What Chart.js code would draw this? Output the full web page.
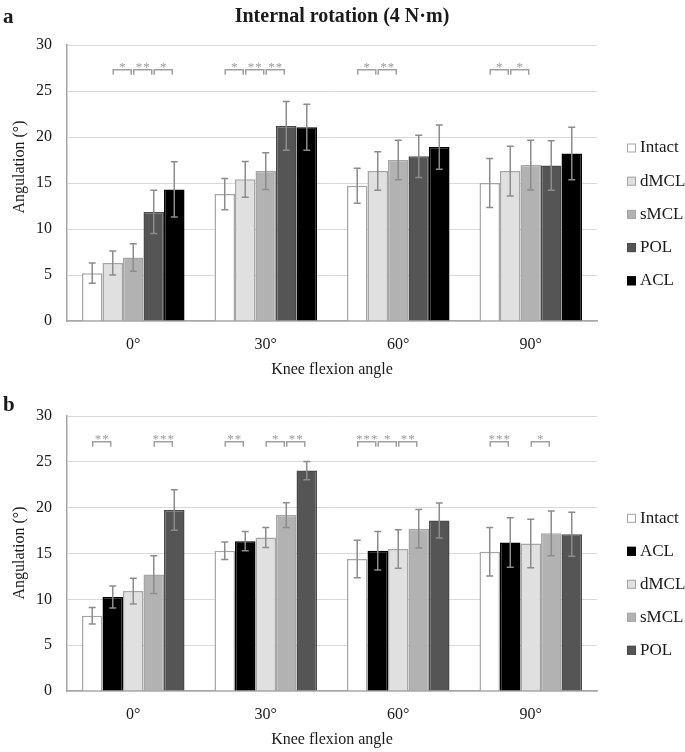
<!DOCTYPE html>
<html>
<head>
<meta charset="utf-8">
<script src="https://cdn.jsdelivr.net/npm/chart.js@4.4.1/dist/chart.umd.min.js"></script>
<style>
  html, body { margin: 0; padding: 0; background: #fff; }
  canvas { display: block; }
</style>
</head>
<body>
<canvas id="grafA" width="685" height="385"></canvas>
<canvas id="grafB" width="685" height="367"></canvas>
<script>
// --- DADOS ---

const categorias = ['0°', '30°', '60°', '90°'];
const ticksY = [0, 5, 10, 15, 20, 25, 30];

// Painel a: Intact, dMCL, sMCL, POL, ACL
const intactA = [5.2, 13.8, 14.7, 15.0];
const dmclA   = [6.3, 15.4, 16.3, 16.3];
const smclA   = [6.9, 16.3, 17.5, 16.95];
const polA    = [11.85, 21.2, 17.9, 16.9];
const aclA    = [14.3, 21.05, 18.9, 18.2];

const dpIntactA = [1.1, 1.7, 1.9, 2.65];
const dpDmclA   = [1.3, 1.95, 2.1, 2.7];
const dpSmclA   = [1.5, 2.0, 2.15, 2.7];
const dpPolA    = [2.35, 2.65, 2.3, 2.7];
const dpAclA    = [3.0, 2.5, 2.4, 2.85];

// Painel b: Intact, ACL, dMCL, sMCL, POL
const intactB = [8.2, 15.3, 14.4, 15.2];
const aclB    = [10.25, 16.35, 15.3, 16.2];
const dmclB   = [10.9, 16.75, 15.5, 16.1];
const smclB   = [12.7, 19.2, 17.7, 17.2];
const polB    = [19.75, 24.05, 18.6, 17.1];

const dpIntactB = [0.9, 0.95, 2.05, 2.65];
const dpAclB    = [1.2, 1.05, 2.1, 2.7];
const dpDmclB   = [1.4, 1.1, 2.1, 2.65];
const dpSmclB   = [2.05, 1.35, 2.1, 2.45];
const dpPolB    = [2.2, 1.0, 1.9, 2.4];

// [categoria, dataset de, dataset até, rótulo]
const signifA = [
  [0, 1, 2, '*'], [0, 2, 3, '**'], [0, 3, 4, '*'],
  [1, 0, 1, '*'], [1, 1, 2, '**'], [1, 2, 3, '**'],
  [2, 0, 1, '*'], [2, 1, 2, '**'],
  [3, 0, 1, '*'], [3, 1, 2, '*']
];
const signifB = [
  [0, 0, 1, '**'], [0, 3, 4, '***'],
  [1, 0, 1, '**'], [1, 2, 3, '*'], [1, 3, 4, '**'],
  [2, 0, 1, '***'], [2, 1, 2, '*'], [2, 2, 3, '**'],
  [3, 0, 1, '***'], [3, 2, 3, '*']
];

// --- CONSTANTES DE UI ---
const cores = {
  Intact: '#ffffff',
  dMCL: '#e0e0e0',
  sMCL: '#b2b2b2',
  POL: '#555555',
  ACL: '#000000'
};
const bordas = {
  Intact: '#a6a6a6',
  dMCL: '#a6a6a6',
  sMCL: '#a6a6a6',
  POL: '#4a4a4a',
  ACL: '#000000'
};
const FONTE = "'Liberation Serif', 'Times New Roman', serif";
const COR_TEXTO = '#1a1a1a';

function serie(nome, valores, erros) {
  return {
    label: nome,
    data: valores,
    erro: erros,
    backgroundColor: cores[nome],
    borderColor: bordas[nome],
    borderWidth: 1.5,
    borderSkipped: 'start',
    categoryPercentage: 0.774,
    barPercentage: 1.0
  };
}

// Barras de erro, colchetes de significância, textos e legenda
const extrasPlugin = {
  id: 'extras',
  afterDatasetsDraw(chart, args, opts) {
    const ctx = chart.ctx;
    const y = chart.scales.y;
    ctx.save();
    ctx.strokeStyle = '#8c8c8c';
    ctx.lineWidth = 1.5;
    chart.data.datasets.forEach((ds, d) => {
      chart.getDatasetMeta(d).data.forEach((bar, i) => {
        const v = ds.data[i];
        const e = ds.erro[i];
        const yt = y.getPixelForValue(v + e);
        const yb = y.getPixelForValue(v - e);
        ctx.beginPath();
        ctx.moveTo(bar.x, yt); ctx.lineTo(bar.x, yb);
        ctx.moveTo(bar.x - 3.5, yt); ctx.lineTo(bar.x + 3.5, yt);
        ctx.moveTo(bar.x - 3.5, yb); ctx.lineTo(bar.x + 3.5, yb);
        ctx.stroke();
      });
    });

    const yl = y.getPixelForValue(opts.nivelColchete);
    ctx.strokeStyle = '#a0a0a0';
    ctx.fillStyle = '#9a9a9a';
    ctx.font = '13px ' + FONTE;
    ctx.letterSpacing = '1px';
    ctx.textAlign = 'center';
    ctx.textBaseline = 'alphabetic';
    opts.signif.forEach(([cat, d1, d2, txt]) => {
      const x1 = chart.getDatasetMeta(d1).data[cat].x + 0.5;
      const x2 = chart.getDatasetMeta(d2).data[cat].x - 2;
      ctx.beginPath();
      ctx.moveTo(x1, yl + 5); ctx.lineTo(x1, yl); ctx.lineTo(x2, yl); ctx.lineTo(x2, yl + 5);
      ctx.stroke();
      ctx.fillText(txt, (x1 + x2) / 2 + 0.5, yl + 1);
    });
    ctx.restore();
  },
  afterDraw(chart, args, opts) {
    const ctx = chart.ctx;
    ctx.save();
    ctx.fillStyle = COR_TEXTO;
    ctx.textBaseline = 'middle';

    // letra do painel
    ctx.font = 'bold 21px ' + FONTE;
    ctx.textAlign = 'left';
    ctx.fillText(opts.letra, 3, opts.letraY);

    // título
    if (opts.titulo) {
      ctx.font = 'bold 20px ' + FONTE;
      ctx.textAlign = 'center';
      ctx.fillText(opts.titulo, 342, 17);
    }

    // título do eixo Y
    ctx.font = '16px ' + FONTE;
    ctx.save();
    ctx.translate(20, opts.eixoYCentro);
    ctx.rotate(-Math.PI / 2);
    ctx.textAlign = 'center';
    ctx.fillText('Angulation (°)', 0, 0);
    ctx.restore();

    // legenda
    chart.data.datasets.forEach((ds, d) => {
      const yy = opts.legendaY + d * opts.legendaPasso;
      ctx.fillStyle = ds.backgroundColor;
      ctx.fillRect(627, yy - 4.5, 9, 9);
      ctx.strokeStyle = ds.borderColor;
      ctx.lineWidth = 1;
      ctx.strokeRect(627.5, yy - 4, 8, 8);
      ctx.fillStyle = COR_TEXTO;
      ctx.font = '17px ' + FONTE;
      ctx.textAlign = 'left';
      ctx.fillText(ds.label, 640, yy);
    });
    ctx.restore();
  }
};

function montarGrafico(canvasId, series, painel) {
  const ctx = document.getElementById(canvasId);
  const alturaCanvas = ctx.height;
  return new Chart(ctx, {
    type: 'bar',
    data: { labels: categorias, datasets: series },
    plugins: [extrasPlugin],
    options: {
      responsive: false,
      devicePixelRatio: 1,
      animation: false,
      layout: { padding: { top: painel.topo, right: 88, bottom: 0, left: 0 } },
      plugins: {
        legend: { display: false },
        tooltip: { enabled: false },
        extras: painel
      },
      scales: {
        x: {
          grid: { display: false, drawTicks: false },
          border: { color: '#a6a6a6', width: 1.5 },
          ticks: { color: COR_TEXTO, font: { family: FONTE, size: 16 }, padding: 14 },
          title: {
            display: true,
            text: 'Knee flexion angle',
            color: COR_TEXTO,
            font: { family: FONTE, size: 16 },
            padding: { top: 0, bottom: painel.tituloXBase }
          },
          afterFit: (s) => { s.height = alturaCanvas - painel.base; }
        },
        y: {
          min: ticksY[0],
          max: ticksY[ticksY.length - 1],
          grid: { color: '#d9d9d9', lineWidth: 1, drawTicks: false },
          border: { color: '#a6a6a6', width: 1.5 },
          ticks: {
            stepSize: ticksY[1] - ticksY[0],
            color: COR_TEXTO,
            font: { family: FONTE, size: 16 },
            padding: 15
          },
          afterFit: (s) => { s.width = 67; }
        }
      }
    }
  });
}

montarGrafico('grafA', [
  serie('Intact', intactA, dpIntactA),
  serie('dMCL', dmclA, dpDmclA),
  serie('sMCL', smclA, dpSmclA),
  serie('POL', polA, dpPolA),
  serie('ACL', aclA, dpAclA)
], {
  topo: 45, base: 321, tituloXBase: 6,
  letra: 'a', letraY: 18, titulo: 'Internal rotation (4 N·m)',
  eixoYCentro: 167, legendaY: 148, legendaPasso: 33.2,
  signif: signifA, nivelColchete: 27.3
});

montarGrafico('grafB', [
  serie('Intact', intactB, dpIntactB),
  serie('ACL', aclB, dpAclB),
  serie('dMCL', dmclB, dpDmclB),
  serie('sMCL', smclB, dpSmclB),
  serie('POL', polB, dpPolB)
], {
  topo: 31, base: 306, tituloXBase: 3,
  letra: 'b', letraY: 21, titulo: null,
  eixoYCentro: 168, legendaY: 133.3, legendaPasso: 33,
  signif: signifB, nivelColchete: 27.2
});
</script>
</body>
</html>
